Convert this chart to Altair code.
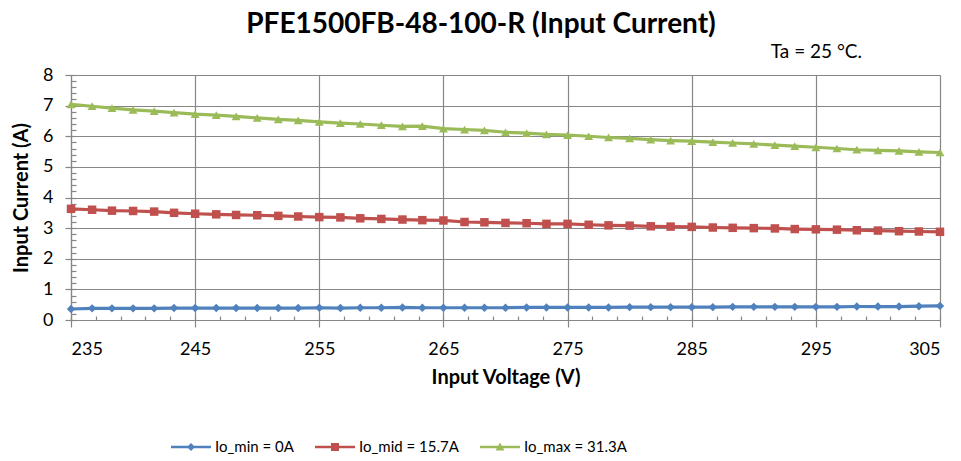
import altair as alt
import pandas as pd

voltage = [235.0, 236.7, 238.3, 240.0, 241.7, 243.3, 245.0, 246.7, 248.3, 250.0,
           251.7, 253.3, 255.0, 256.7, 258.3, 260.0, 261.7, 263.3, 265.0, 266.7,
           268.3, 270.0, 271.7, 273.3, 275.0, 276.7, 278.3, 280.0, 281.7, 283.3,
           285.0, 286.7, 288.3, 290.0, 291.7, 293.3, 295.0, 296.7, 298.3, 300.0,
           301.7, 303.3, 305.0]

io_min = [0.36, 0.38, 0.38, 0.38, 0.38, 0.39, 0.39, 0.39, 0.39, 0.39,
          0.39, 0.39, 0.40, 0.39, 0.40, 0.40, 0.41, 0.40, 0.40, 0.40,
          0.40, 0.40, 0.41, 0.41, 0.41, 0.41, 0.41, 0.42, 0.42, 0.42,
          0.42, 0.42, 0.43, 0.43, 0.43, 0.43, 0.43, 0.43, 0.44, 0.44,
          0.44, 0.45, 0.46]

io_mid = [3.63, 3.60, 3.57, 3.56, 3.54, 3.50, 3.47, 3.45, 3.43, 3.42,
          3.40, 3.38, 3.36, 3.35, 3.32, 3.30, 3.28, 3.26, 3.25, 3.20,
          3.19, 3.17, 3.16, 3.14, 3.14, 3.11, 3.09, 3.08, 3.06, 3.05,
          3.04, 3.02, 3.01, 3.00, 2.99, 2.97, 2.96, 2.95, 2.93, 2.92,
          2.90, 2.89, 2.88]

io_max = [7.04, 6.98, 6.92, 6.86, 6.82, 6.77, 6.72, 6.69, 6.65, 6.60,
          6.55, 6.52, 6.47, 6.43, 6.40, 6.36, 6.32, 6.33, 6.25, 6.22,
          6.19, 6.13, 6.10, 6.06, 6.04, 6.00, 5.96, 5.93, 5.89, 5.86,
          5.84, 5.81, 5.78, 5.75, 5.71, 5.68, 5.64, 5.60, 5.56, 5.54,
          5.52, 5.49, 5.47]

series_names = ["Io_min = 0A", "Io_mid = 15.7A", "Io_max = 31.3A"]
series_colors = ["#4F81BD", "#C0504D", "#9BBB59"]
marker_shapes = ["diamond", "square", "triangle-up"]
marker_sizes = [70, 72, 80]
legend_shapes = [
    "M-1,-0.065L1,-0.065L1,0.065L-1,0.065Z M-0.2,0L0,-0.2L0.2,0L0,0.2Z",
    "M-1,-0.065L1,-0.065L1,0.065L-1,0.065Z M-0.2,-0.2L0.2,-0.2L0.2,0.2L-0.2,0.2Z",
    "M-1,-0.065L1,-0.065L1,0.065L-1,0.065Z M-0.22,0.18L0,-0.22L0.22,0.18Z",
]
x_ticks = [235, 245, 255, 265, 275, 285, 295, 305]
y_ticks = [0, 1, 2, 3, 4, 5, 6, 7, 8]
x_minor = list(range(235, 306, 2))
y_minor = [round(i * 0.2, 1) for i in range(41)]

title_text = "PFE1500FB-48-100-R (Input Current)"
note_text = "Ta = 25 °C."

rows = []
for name, vals in zip(series_names, [io_min, io_mid, io_max]):
    for v, c in zip(voltage, vals):
        rows.append({"voltage": v, "current": c, "series": name})
df = pd.DataFrame(rows)

FONT = "Lato"
GRID = "#868686"
W, H = 869, 245

xscale = alt.Scale(domain=[235, 305], nice=False, zero=False)
yscale = alt.Scale(domain=[0, 8], nice=False)
cscale = alt.Scale(domain=series_names, range=series_colors)

leg_props = dict(
    orient="none", legendX=100, legendY=352, direction="horizontal", columns=3,
    title=None, symbolSize=1600, symbolOpacity=1, symbolStrokeWidth=0,
    labelFont=FONT, labelFontSize=15, labelColor="black", labelOffset=4,
    columnPadding=21, padding=0,
)


def color_enc():
    return alt.Color("series:N", scale=cscale, legend=alt.Legend(**leg_props))


base = alt.Chart(df)

legend_layer = base.mark_point(filled=True, opacity=0).encode(
    x=alt.X("voltage:Q", scale=xscale, axis=alt.Axis(
        orient="top", offset=-H, values=x_minor, grid=False, domain=False, labels=False,
        tickColor=GRID, tickSize=4, tickWidth=1.2, title=None)),
    y=alt.Y("current:Q", scale=yscale, axis=alt.Axis(
        orient="right", offset=-W, values=y_minor, grid=False, domain=False, labels=False,
        tickColor=GRID, tickSize=5, tickWidth=1.2, title=None)),
    color=color_enc(),
    shape=alt.Shape("series:N", scale=alt.Scale(domain=series_names, range=legend_shapes),
                    legend=alt.Legend(**leg_props)),
)

lines = base.mark_line(strokeWidth=3.2).encode(
    x=alt.X("voltage:Q", scale=xscale, axis=alt.Axis(
        values=x_ticks, grid=True, gridColor=GRID, gridWidth=1.2,
        domainColor=GRID, domainWidth=1.2, tickColor=GRID, tickSize=7, tickWidth=1.2,
        labelFont=FONT, labelFontSize=18, labelColor="black", labelPadding=13,
        title="Input Voltage (V)", titleFont=FONT, titleFontSize=20,
        titleFontWeight="bold", titleColor="black", titlePadding=9)),
    y=alt.Y("current:Q", scale=yscale, axis=alt.Axis(
        values=y_ticks, grid=True, gridColor=GRID, gridWidth=1.2,
        domainColor=GRID, domainWidth=1.2, tickColor=GRID, tickSize=6, tickWidth=1.2,
        labelFont=FONT, labelFontSize=18, labelColor="black", labelPadding=12,
        title="Input Current (A)", titleFont=FONT, titleFontSize=20,
        titleFontWeight="bold", titleColor="black", titlePadding=11)),
    color=color_enc(),
)

point_layers = []
for name, shp, sz in zip(series_names, marker_shapes, marker_sizes):
    point_layers.append(
        base.transform_filter(alt.datum.series == name)
        .mark_point(filled=True, opacity=1, shape=shp, size=sz)
        .encode(
            x=alt.X("voltage:Q", scale=xscale, axis=None),
            y=alt.Y("current:Q", scale=yscale, axis=None),
            color=color_enc(),
        )
    )

title = alt.Chart(pd.DataFrame({"t": [title_text]})).mark_text(
    font=FONT, fontSize=28, fontWeight="bold", align="center", baseline="alphabetic", color="black"
).encode(text="t:N", x=alt.value(410), y=alt.value(-42))

note = alt.Chart(pd.DataFrame({"t": [note_text]})).mark_text(
    font=FONT, fontSize=19, align="right", baseline="alphabetic", color="black"
).encode(text="t:N", x=alt.value(791), y=alt.value(-17))

chart = alt.layer(legend_layer, lines, *point_layers, title, note).resolve_axis(
    x="independent", y="independent"
).properties(
    width=W, height=H,
    autosize=alt.AutoSizeParams(type="none"),
    padding={"left": 63, "top": 67, "right": 13, "bottom": 138},
).configure_view(stroke=None).configure(background="white")

chart.save("out.html", embed_options={"renderer": "svg", "actions": False})
